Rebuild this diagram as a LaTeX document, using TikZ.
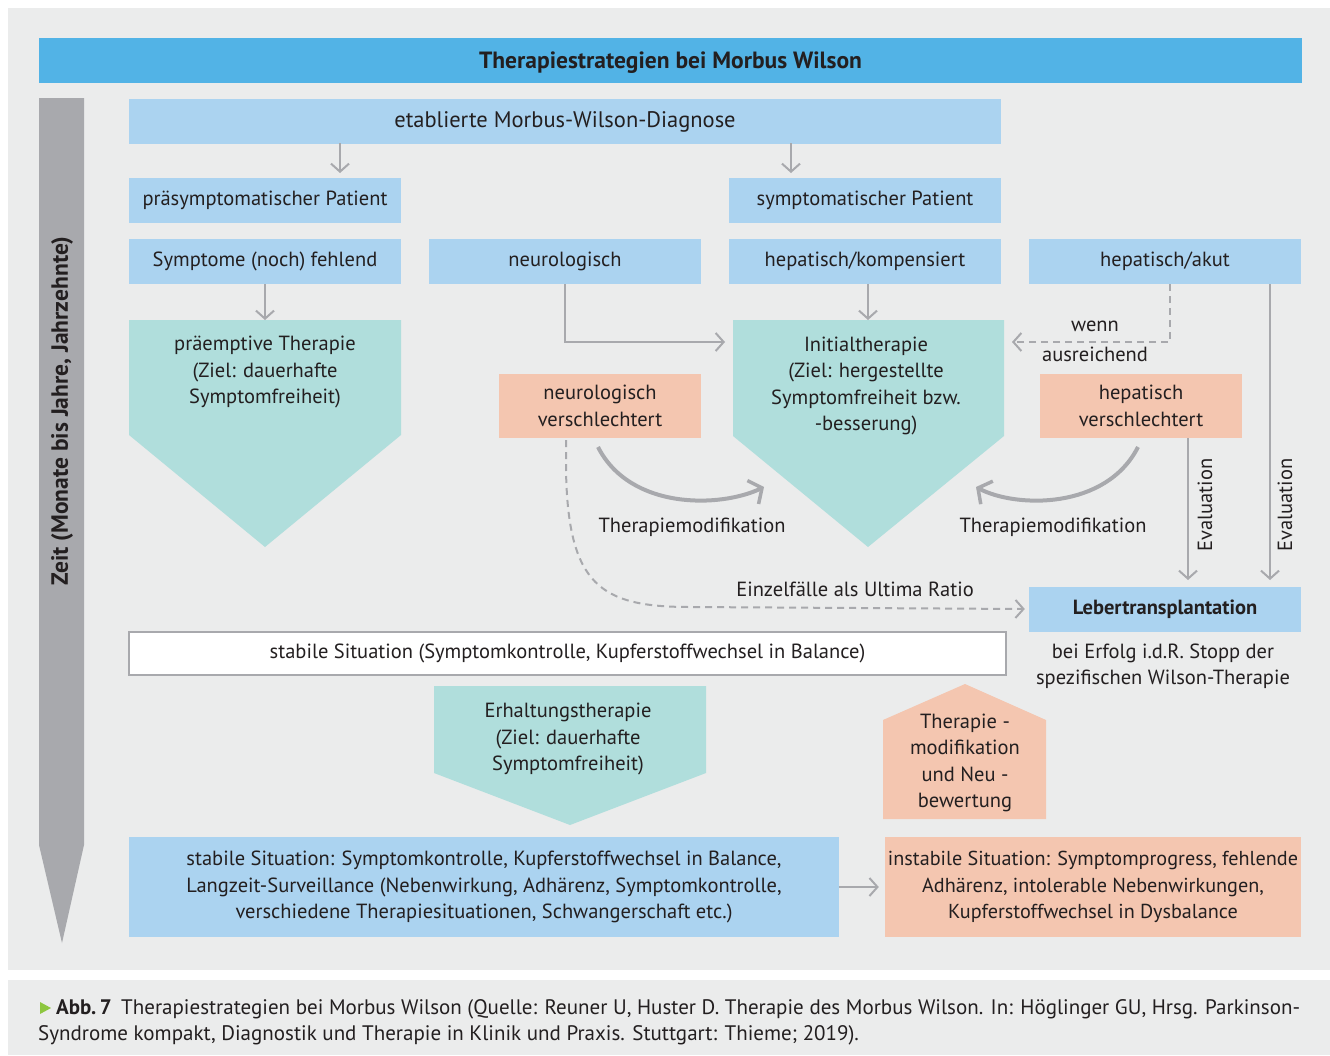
\documentclass[tikz,border=0pt]{standalone}
\usepackage{fontspec}
\setmainfont{PT Sans}
\usetikzlibrary{arrows.meta,calc}
\definecolor{panel}{HTML}{EBECEC}
\definecolor{tbar}{HTML}{52B3E6}
\definecolor{lblue}{HTML}{ABD3F0}
\definecolor{teal}{HTML}{B0DEDC}
\definecolor{salmon}{HTML}{F4C6B0}
\definecolor{agray}{HTML}{A8A9AD}
\definecolor{txt}{HTML}{231F20}
\definecolor{cgreen}{HTML}{8DC63F}
\tikzset{
  box/.style={fill=#1, inner sep=0pt, align=center, text=txt},
  arr/.style={draw=agray, line width=2pt, -{Straight Barb[length=8pt,width=18pt,line width=2pt]}},
  darr/.style={arr, dashed, dash pattern=on 7pt off 5pt},
  carr/.style={draw=agray, line width=4pt, -{Straight Barb[length=10pt,width=26pt,line width=3.5pt]}},
  lbl/.style={text=txt, inner sep=0pt, align=center}
}
\begin{document}
\begin{tikzpicture}[x=1pt,y=-1pt, font=\fontsize{20.5}{26.5}\selectfont]
\useasboundingbox (0,0) rectangle (1330,1055);
\fill[white] (0,0) rectangle (1330,1055);
\fill[panel] (8,8) rectangle (1330,970);
\fill[panel] (8,980) rectangle (1330,1055);

% title
\node[box=tbar, minimum width=1263, minimum height=45] (title) at (670.5,60.5) {};
\node[lbl, font=\fontsize{23.5}{26}\selectfont\bfseries] at (670.5,62.5) {Therapiestrategien bei Morbus Wilson};

% time bar
\fill[agray] (39,98) -- (84,98) -- (84,845) -- (62,943) -- (39,845) -- cycle;
\node[lbl, rotate=90, font=\fontsize{23.5}{26}\selectfont\bfseries] (zeit) at (62,411) {Zeit (Monate bis Jahre, Jahrzehnte)};

% top boxes
\node[box=lblue, minimum width=872, minimum height=45, font=\fontsize{22.5}{26}\selectfont] (diag) at (565,121.5) {etablierte Morbus-Wilson-Diagnose};
\node[box=lblue, minimum width=272, minimum height=45] (pre) at (265,200.5) {präsymptomatischer Patient};
\node[box=lblue, minimum width=272, minimum height=45] (sym) at (865,200.5) {symptomatischer Patient};
\node[box=lblue, minimum width=272, minimum height=45] (fehl) at (265,261.5) {Symptome (noch) fehlend};
\node[box=lblue, minimum width=272, minimum height=45] (neuro) at (565,261.5) {neurologisch};
\node[box=lblue, minimum width=272, minimum height=45] (hepk) at (865,261.5) {hepatisch/kompensiert};
\node[box=lblue, minimum width=272, minimum height=45] (hepa) at (1165,261.5) {hepatisch/akut};

% pentagons
\fill[teal] (129,320) -- (401,320) -- (401,435) -- (265,547) -- (129,435) -- cycle;
\node[lbl] (praem) at (265,372) {präemptive Therapie\\(Ziel: dauerhafte\\Symptomfreiheit)};
\coordinate (praemtop) at (265,320);
\fill[teal] (733,320) -- (1004,320) -- (1004,436) -- (868,547) -- (733,436) -- cycle;
\node[lbl] (init) at (866,386) {Initialtherapie\\(Ziel: hergestellte\\Symptomfreiheit bzw.\\-besserung)};
\coordinate (inittop) at (868,320);
\coordinate (initleft) at (733,342);
\coordinate (initright) at (1004,342);
\fill[teal] (434,686) -- (706,686) -- (706,773) -- (570,825) -- (434,773) -- cycle;
\node[lbl] (erh) at (568,739) {Erhaltungstherapie\\(Ziel: dauerhafte\\Symptomfreiheit)};

% salmon boxes
\node[box=salmon, minimum width=202, minimum height=64] (neurov) at (600,406) {neurologisch\\verschlechtert};
\node[box=salmon, minimum width=202, minimum height=64] (hepv) at (1141,406) {hepatisch\\verschlechtert};
\fill[salmon] (883,819) -- (883,720) -- (965,684) -- (1046,720) -- (1046,819) -- cycle;
\node[lbl] (mod) at (965,763) {Therapie -\\modifikation\\und Neu -\\bewertung};

% Leber
\node[box=lblue, minimum width=272, minimum height=45, font=\fontsize{20.5}{24}\selectfont\bfseries] (leber) at (1165,609) {Lebertransplantation};
\node[lbl] (erfolg) at (1163,666) {bei Erfolg i.d.R. Stopp der\\spezifischen Wilson-Therapie};

% stable white
\node[box=white, draw=agray, line width=1.5pt, minimum width=877, minimum height=43] (stab1) at (567.5,653.5) {stabile Situation (Symptomkontrolle, Kupferstoffwechsel in Balance)};

% bottom boxes
\node[box=lblue, minimum width=710, minimum height=100] (stab2) at (484,887) {stabile Situation: Symptomkontrolle, Kupferstoffwechsel in Balance,\\Langzeit-Surveillance (Nebenwirkung, Adhärenz, Symptomkontrolle,\\verschiedene Therapiesituationen, Schwangerschaft etc.)};
\node[box=salmon, minimum width=416, minimum height=100, font=\fontsize{20.2}{26.5}\selectfont] (instab) at (1093,887) {instabile Situation: Symptomprogress, fehlende\\Adhärenz, intolerable Nebenwirkungen,\\Kupferstoffwechsel in Dysbalance};

% arrows
\draw[arr] (340,143) -- (340,173);
\draw[arr] (791,143) -- (791,173);
\draw[arr] (fehl.south) -- (praemtop);
\draw[arr] (hepk.south -| inittop) -- (inittop);
\draw[arr] (neuro.south) |- ($(initleft)+(-8,0)$);
\draw[darr] (1170,284) |- ($(initright)+(8,0)$);
\node[lbl] (wenn) at (1095,326) {wenn};
\node[lbl] (ausr) at (1095,354) {ausreichend};
\draw[arr] (1270,284) -- (1270,580);
\node[lbl, rotate=90] (ev2) at (1285,505) {Evaluation};
\draw[arr] (1188,438) -- (1188,580);
\node[lbl, rotate=90] (ev1) at (1205,505) {Evaluation};
\draw[carr] (598,447) .. controls (630,510) and (720,508) .. (764,487);
\node[lbl] (tm1) at (692,527) {Therapiemodifikation};
\draw[carr] (1138,447) .. controls (1106,510) and (1016,508) .. (976,487);
\node[lbl] (tm2) at (1053,527) {Therapiemodifikation};
\draw[darr] (566,440) -- (566,470) .. controls (568,585) and (600,607) .. (690,607) -- ($(leber.west)+(-4,0)$);
\node[lbl] (einz) at (855,589) {Einzelfälle als Ultima Ratio};
\draw[arr] (stab2.east) -- ($(instab.west)+(-6,0)$);

% caption
\fill[cgreen] (40,1002) -- (51,1008) -- (40,1014) -- cycle;
\node[lbl, anchor=base west, font=\fontsize{21}{26}\selectfont] (cap1) at (56,1014) {\textbf{Abb.\,7}\hspace{0.45em}Therapiestrategien bei Morbus Wilson (Quelle: Reuner U, Huster D. Therapie des Morbus Wilson. In: Höglinger GU, Hrsg. Parkinson-};
\node[lbl, anchor=base west, font=\fontsize{21}{26}\selectfont] (cap2) at (38,1040) {Syndrome kompakt, Diagnostik und Therapie in Klinik und Praxis. Stuttgart: Thieme; 2019).};
\end{tikzpicture}
\end{document}
